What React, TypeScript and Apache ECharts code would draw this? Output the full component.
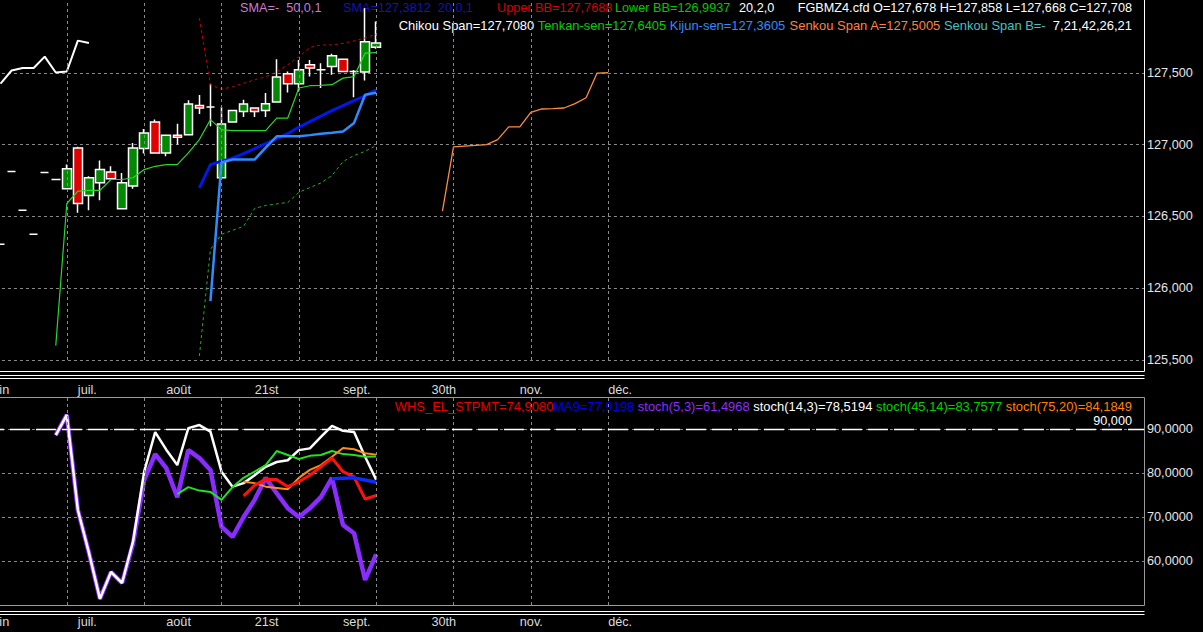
import React, { useEffect, useRef } from "react";
import * as echarts from "echarts";

// ---------- x axis (category slots; slot 0 sits before the first bar) ----------
const xTickLabels = ["juin", "juil.", "août", "21st", "sept.", "30th", "nov.", "déc."];
const LABEL_EVERY = 8;
const GRID_EVERY = 7;
const GRID_LAST_SLOT = 56;
const SLOTS = 105;
const FIRST_BAR_SLOT = 1;

// ---------- price panel ----------
// bars 0-5: flat prints (open = close = low = high)
const flatBars = [126.306, 126.813, 126.542, 126.375, 126.806, 126.757];
// bars 6-34: [open, close, low, high]
const ohlcBars: number[][] = [
  [126.692, 126.831, 126.69, 126.861],
  [126.977, 126.59, 126.526, 126.985],
  [126.646, 126.769, 126.542, 126.78],
  [126.734, 126.826, 126.613, 126.889],
  [126.81, 126.762, 126.755, 126.849],
  [126.553, 126.734, 126.55, 126.803],
  [126.711, 126.977, 126.692, 127.012],
  [126.972, 127.081, 126.938, 127.109],
  [127.158, 126.942, 126.942, 127.174],
  [126.942, 127.065, 126.919, 127.065],
  [127.065, 127.051, 127.0, 127.146],
  [127.069, 127.283, 127.069, 127.308],
  [127.273, 127.255, 127.213, 127.345],
  [127.262, 127.262, 127.127, 127.424],
  [126.769, 127.144, 126.769, 127.262],
  [127.158, 127.238, 127.158, 127.238],
  [127.231, 127.283, 127.192, 127.313],
  [127.255, 127.231, 127.192, 127.255],
  [127.238, 127.285, 127.192, 127.359],
  [127.297, 127.47, 127.297, 127.595],
  [127.493, 127.424, 127.363, 127.509],
  [127.424, 127.521, 127.37, 127.59],
  [127.556, 127.533, 127.474, 127.59],
  [127.521, 127.521, 127.394, 127.567],
  [127.544, 127.618, 127.486, 127.632],
  [127.595, 127.509, 127.509, 127.595],
  [127.509, 127.509, 127.33, 127.52],
  [127.505, 127.717, 127.447, 127.95],
  [127.678, 127.708, 127.668, 127.858],
];

const chikouStart = 0;
const chikou = [127.424, 127.516, 127.533, 127.533, 127.613, 127.502, 127.509, 127.724, 127.708];

const tenkanStart = 5;
const tenkan = [
  125.6, 126.59, 126.676, 126.681, 126.681, 126.757, 126.757, 126.769, 126.826, 126.849,
  126.861, 126.861, 126.942, 127.035, 127.174, 127.104, 127.097, 127.097, 127.097, 127.097,
  127.185, 127.185, 127.394, 127.41, 127.413, 127.417, 127.463, 127.474, 127.637, 127.6405,
];

const kijunStart = 19;
const kijun = [
  125.91, 126.875, 126.896, 126.896, 126.896, 126.979, 127.058, 127.058, 127.058, 127.066,
  127.076, 127.083, 127.092, 127.151, 127.347, 127.3605,
];

const smaStart = 18;
const sma20 = [
  126.699, 126.861, 126.885, 126.905, 126.937, 126.972, 127.007, 127.042, 127.076, 127.122,
  127.16, 127.198, 127.236, 127.271, 127.306, 127.34, 127.381,
];

const bbStart = 18;
const upperBB = [
  127.88, 127.417, 127.385, 127.403, 127.427, 127.451, 127.472, 127.507, 127.556, 127.611,
  127.677, 127.694, 127.694, 127.705, 127.722, 127.743, 127.7688,
];
const lowerBB = [
  125.528, 126.27, 126.375, 126.403, 126.431, 126.556, 126.576, 126.587, 126.597, 126.667,
  126.701, 126.733, 126.785, 126.882, 126.924, 126.953, 126.9937,
];

const senkouAStart = 40;
const senkouA = [
  126.537, 126.984, 126.99, 126.995, 127.0, 127.035, 127.123, 127.123, 127.224, 127.248,
  127.25, 127.255, 127.285, 127.326, 127.498, 127.5005,
];

const priceTicks = { min: 125.5, max: 128, step: 0.5 };

// ---------- oscillator panel ----------
const stoch5Start = 5;
const stoch5 = [
  88.6, 93.2, 71.6, 61.9, 51.4, 57.5, 55.0, 64.0, 78.4, 84.3,
  81.1, 74.5, 85.2, 83.4, 80.7, 67.8, 65.5, 70.0, 73.9, 78.9,
  75.4, 72.0, 70.0, 72.0, 74.5, 78.9, 68.2, 66.3, 55.7, 61.5,
];
const stoch14Start = 5;
const stoch14 = [
  88.6, 93.2, 71.6, 61.9, 51.4, 57.5, 55.0, 64.5, 80.3, 89.3,
  85.3, 81.8, 90.2, 90.9, 89.4, 80.3, 76.9, 77.7, 79.5, 81.4,
  82.5, 82.9, 85.2, 85.6, 88.2, 90.7, 89.6, 89.3, 83.7, 78.5,
];
const stoch45Start = 16;
const stoch45 = [
  75.2, 76.8, 76.0, 75.7, 73.9, 76.8, 78.9, 80.3, 81.8, 85.0,
  84.1, 83.2, 83.9, 84.1, 85.0, 84.3, 84.1, 83.7, 83.76,
];
const stoch75Start = 22;
const stoch75 = [78.0, 77.7, 76.9, 76.6, 76.3, 78.9, 80.7, 81.8, 83.7, 85.7, 85.4, 84.5, 84.18];
const whsStart = 22;
const whsStpmt = [74.8, 77.2, 78.6, 78.5, 76.9, 78.0, 79.5, 81.4, 83.4, 80.3, 79.1, 74.1, 74.9];
const ma9Start = 30;
const ma9 = [78.7, 78.8, 78.9, 78.4, 77.92];
const oscLevel = 90;
const oscTicks = { min: 50, max: 97.05, step: 10 };

// ---------- legend texts ----------
const hdrSma50 = "SMA=-  50,0,1";
const hdrSma20 = "SMA=127,3812  20,0,1";
const hdrUpper = "Upper BB=127,7688";
const hdrLower = "Lower BB=126,9937";
const hdrBBParams = "20,2,0";
const hdrSymbol = "FGBMZ4.cfd O=127,678 H=127,858 L=127,668 C=127,708";
const hdrChikou = "Chikou Span=127,7080";
const hdrTenkan = "Tenkan-sen=127,6405";
const hdrKijun = "Kijun-sen=127,3605";
const hdrSenkouA = "Senkou Span A=127,5005";
const hdrSenkouB = "Senkou Span B=-";
const hdrIchiParams = "7,21,42,26,21";
const oscWhs = "WHS_EL_STPMT=74,9080";
const oscMa9 = "MA9=77,9198";
const oscS5 = "stoch(5,3)=61,4968";
const oscS14 = "stoch(14,3)=78,5194";
const oscS45 = "stoch(45,14)=83,7577";
const oscS75 = "stoch(75,20)=84,1849";
const oscLevelText = "90,000";

// ---------- helpers ----------
const FF = '"Liberation Sans", Arial, Helvetica, sans-serif';
const FS = 12.7;
const FS_LEG = 12.95;
const FONT = `${FS}px ${FF}`;
const FONT_LEG = `${FS_LEG}px ${FF}`;

const fmt3 = (v: number) => v.toFixed(3).replace(".", ",");
const fmt4 = (v: number) => v.toFixed(4).replace(".", ",");

function place(start: number, values: number[]): (number | null)[] {
  const out: (number | null)[] = new Array(SLOTS).fill(null);
  values.forEach((v, i) => {
    out[start + i + FIRST_BAR_SLOT] = v;
  });
  return out;
}

function buildCandles() {
  const out: any[] = [];
  for (let k = 0; k < FIRST_BAR_SLOT; k++) out.push(["-", "-", "-", "-"]);
  flatBars.forEach((v) => out.push([v, v, v, v]));
  ohlcBars.forEach((b) => out.push(b));
  return out;
}

const slotNames = Array.from({ length: SLOTS }, (_, k) => String(k));
const gridSlots: number[] = [];
for (let k = GRID_EVERY; k <= GRID_LAST_SLOT; k += GRID_EVERY) gridSlots.push(k);

function lineSeries(data: (number | null)[], color: string, width: number, panel: number, extra: any = {}) {
  return {
    type: "line",
    xAxisIndex: panel,
    yAxisIndex: panel,
    data,
    symbol: "none",
    showSymbol: false,
    silent: true,
    lineStyle: { color, width, ...(extra.lineType ? { type: extra.lineType } : {}) },
    itemStyle: { color },
    emphasis: { disabled: true },
    ...(extra.markLine ? { markLine: extra.markLine } : {}),
    z: extra.z ?? 3,
  };
}

function gridLineSeries(panel: number) {
  return {
    type: "line",
    xAxisIndex: panel,
    yAxisIndex: panel,
    data: [],
    silent: true,
    z: 1,
    markLine: {
      silent: true,
      symbol: ["none", "none"],
      animation: false,
      label: { show: false },
      lineStyle: { color: "#8a8a8a", type: [3, 3], width: 1 },
      emphasis: { disabled: true },
      data: gridSlots.map((k) => ({ xAxis: k })),
    },
  };
}

function xAxisFor(panel: number) {
  return {
    type: "category",
    gridIndex: panel,
    data: slotNames,
    boundaryGap: true,
    axisLine: { show: false },
    axisTick: { show: false },
    splitLine: { show: false },
    axisLabel: {
      interval: (index: number) => index % LABEL_EVERY === 0 && index / LABEL_EVERY < xTickLabels.length,
      formatter: (value: string) => {
        const k = Number(value);
        return k % LABEL_EVERY === 0 ? xTickLabels[k / LABEL_EVERY] ?? "" : "";
      },
      align: "left",
      verticalAlign: "middle",
      margin: panel === 0 ? 30 : 17,
      color: "#dcdcdc",
      fontSize: FS,
      fontFamily: FF,
      hideOverlap: false,
    },
  };
}

function hLine(y: number, x2: number, stroke: string) {
  return { type: "line", silent: true, shape: { x1: 0, y1: y, x2, y2: y }, style: { stroke, lineWidth: 1 } };
}
function vLine(x: number, y1: number, y2: number, stroke: string) {
  return { type: "line", silent: true, shape: { x1: x, y1, x2: x, y2 }, style: { stroke, lineWidth: 1 } };
}
function txt(x: number, y: number, text: string, fill: string, align = "left") {
  return {
    type: "text",
    silent: true,
    x,
    y,
    style: {
      text,
      fill,
      font: FONT,
      align,
      textAlign: align,
      verticalAlign: "middle",
      textVerticalAlign: "middle",
    },
  };
}
function richTxt(x: number, y: number, text: string, rich: Record<string, string>) {
  const r: any = {};
  Object.keys(rich).forEach((k) => {
    r[k] = { fill: rich[k], color: rich[k], font: FONT_LEG };
  });
  return {
    type: "text",
    silent: true,
    x,
    y,
    style: {
      text,
      rich: r,
      fill: "#ffffff",
      font: FONT_LEG,
      align: "right",
      textAlign: "right",
      verticalAlign: "middle",
      textVerticalAlign: "middle",
    },
  };
}

export default function App() {
  const ref = useRef<HTMLDivElement>(null);

  useEffect(() => {
    if (!ref.current) return;
    const chart = echarts.init(ref.current, undefined, { renderer: "svg" });
    const lastClose = ohlcBars[ohlcBars.length - 1][1];
    const lastSma = sma20[sma20.length - 1];

    const option: any = {
      animation: false,
      backgroundColor: "#000000",
      textStyle: { fontFamily: FF },
      grid: [
        { left: -16.05, right: 59, top: 1, height: 359, containLabel: false, outerBoundsMode: "none" },
        { left: -16.05, right: 59, top: 398, height: 207, containLabel: false, outerBoundsMode: "none" },
      ],
      xAxis: [xAxisFor(0), xAxisFor(1)],
      yAxis: [
        {
          type: "value",
          gridIndex: 0,
          position: "right",
          min: priceTicks.min,
          max: priceTicks.max,
          interval: priceTicks.step,
          axisLine: { show: false },
          axisTick: { show: false },
          splitLine: { show: true, showMaxLine: false, lineStyle: { color: "#8a8a8a", type: [3, 3], width: 1 } },
          axisLabel: { showMaxLabel: false, margin: 3, color: "#e6e6e6", fontSize: FS, fontFamily: FF, formatter: (v: number) => fmt3(v) },
        },
        {
          type: "value",
          gridIndex: 1,
          position: "right",
          min: oscTicks.min,
          max: oscTicks.max,
          interval: oscTicks.step,
          axisLine: { show: false },
          axisTick: { show: false },
          splitLine: {
            show: true,
            showMaxLine: false,
            showMinLine: false,
            lineStyle: { color: "#8a8a8a", type: [3, 3], width: 1 },
          },
          axisLabel: {
            showMaxLabel: false,
            showMinLabel: false,
            margin: 3,
            color: "#e6e6e6",
            fontSize: FS,
            fontFamily: FF,
            formatter: (v: number) => fmt4(v),
          },
        },
      ],
      series: [
        gridLineSeries(0),
        {
          type: "candlestick",
          xAxisIndex: 0,
          yAxisIndex: 0,
          data: buildCandles(),
          barWidth: 9,
          silent: true,
          z: 2,
          itemStyle: {
            color: "#008a00",
            color0: "#e00000",
            borderColor: "#ffffff",
            borderColor0: "#ffffff",
            borderColorDoji: "#ffffff",
            borderWidth: 1.5,
          },
          emphasis: { disabled: true },
          markLine: {
            silent: true,
            symbol: ["none", "none"],
            lineStyle: { opacity: 0, width: 0 },
            emphasis: { disabled: true },
            label: {
              show: true,
              position: "end",
              distance: 2,
              formatter: () => fmt3(lastClose),
              color: "#000000",
              backgroundColor: "#c8c8c8",
              padding: [1, 2, 0, 2],
              fontSize: FS,
              fontFamily: FF,
            },
            data: [{ yAxis: lastClose }],
          },
        },
        lineSeries(place(bbStart, upperBB), "#c80000", 1, 0, { lineType: [3, 3] }),
        lineSeries(place(bbStart, lowerBB), "#2aaa2a", 1, 0, { lineType: [3, 3] }),
        lineSeries(place(senkouAStart, senkouA), "#ff8a3d", 1.3, 0),
        lineSeries(place(tenkanStart, tenkan), "#2ad62a", 1.2, 0),
        lineSeries(place(smaStart, sma20), "#0018e8", 3, 0, {
          markLine: {
            silent: true,
            symbol: ["none", "none"],
            lineStyle: { opacity: 0, width: 0 },
            emphasis: { disabled: true },
            label: {
              show: true,
              position: "end",
              distance: 2,
              offset: [0, -9],
              formatter: () => fmt3(lastSma),
              color: "#1030ff",
              fontWeight: "bold",
              fontSize: FS + 0.5,
              fontFamily: FF,
            },
            data: [{ yAxis: lastSma }],
          },
        }),
        lineSeries(place(kijunStart, kijun), "#2f8cff", 2.5, 0),
        lineSeries(place(chikouStart, chikou), "#ffffff", 2, 0),

        // oscillator panel
        gridLineSeries(1),
        {
          type: "line",
          xAxisIndex: 1,
          yAxisIndex: 1,
          data: [],
          silent: true,
          z: 2,
          markLine: {
            silent: true,
            symbol: ["none", "none"],
            emphasis: { disabled: true },
            lineStyle: { color: "#ffffff", type: [20, 6], width: 1.3 },
            label: {
              show: true,
              position: "insideEndTop",
              distance: [12, 2],
              formatter: () => oscLevelText,
              color: "#ffffff",
              fontSize: FS,
              fontFamily: FF,
            },
            data: [{ yAxis: oscLevel }],
          },
        },
        lineSeries(place(stoch5Start, stoch5), "#8a2cff", 4.5, 1),
        lineSeries(place(stoch14Start, stoch14), "#ffffff", 2.5, 1),
        lineSeries(place(stoch45Start, stoch45), "#22e022", 2, 1),
        lineSeries(place(stoch75Start, stoch75), "#ff8c1a", 2, 1),
        lineSeries(place(whsStart, whsStpmt), "#ff1010", 3, 1),
        lineSeries(place(ma9Start, ma9), "#0a2cff", 3.5, 1),
      ],
      graphic: [
        // frames
        vLine(1144.5, 0, 371.5, "#ffffff"),
        hLine(371.5, 1144.5, "#ffffff"),
        hLine(375.5, 1144.5, "#ffffff"),
        hLine(378.5, 1144.5, "#ffffff"),
        hLine(397.5, 1144.5, "#9a9a9a"),
        vLine(1144.5, 397.5, 605.5, "#9a9a9a"),
        hLine(605.5, 1144.5, "#9a9a9a"),
        hLine(611.5, 1144.5, "#ffffff"),
        hLine(614.5, 1144.5, "#ffffff"),
        // header row 1
        txt(240, 8, hdrSma50, "#c87ad8"),
        txt(343, 8, hdrSma20, "#1414b4"),
        txt(497, 8, hdrUpper, "#d80000"),
        txt(615, 8, hdrLower, "#00c800"),
        txt(739, 8, hdrBBParams, "#ffffff"),
        txt(1132, 8, hdrSymbol, "#ffffff", "right"),
        // header row 2
        richTxt(
          1132,
          25,
          `{w|${hdrChikou}} {g|${hdrTenkan}} {b|${hdrKijun}} {o|${hdrSenkouA}} {c|${hdrSenkouB}}  {w|${hdrIchiParams}}`,
          { w: "#ffffff", g: "#00d000", b: "#2f8cff", o: "#ff8040", c: "#40c4c4" }
        ),
        // oscillator legend
        richTxt(
          1132,
          406,
          `{r|${oscWhs}}{bl|${oscMa9}} {p|${oscS5}} {w|${oscS14}} {g|${oscS45}} {o|${oscS75}}`,
          { r: "#e80000", bl: "#0000e8", p: "#8a2cff", w: "#ffffff", g: "#00d000", o: "#ff8000" }
        ),
      ],
    };

    chart.setOption(option);
    return () => {
      chart.dispose();
    };
  }, []);

  return (
    <div
      ref={ref}
      style={{ position: "fixed", left: 0, top: 0, width: 1203, height: 632, background: "#000" }}
    />
  );
}
